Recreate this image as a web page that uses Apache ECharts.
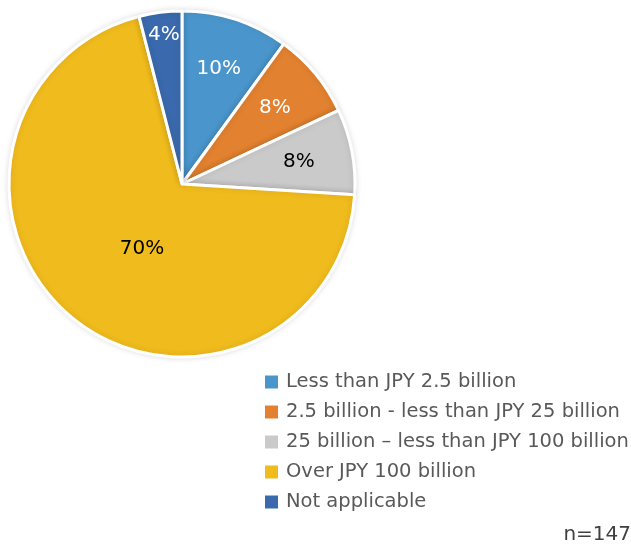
<!DOCTYPE html>
<html>
<head>
<meta charset="utf-8">
<script src="https://cdn.jsdelivr.net/npm/echarts@6/dist/echarts.min.js"></script>
<style>
  html, body { margin: 0; padding: 0; background: #fff; }
  #chart { width: 631px; height: 546px; }
</style>
</head>
<body>
<div id="chart"></div>
<script>
const categories = [
  'Less than JPY 2.5 billion',
  '2.5 billion - less than JPY 25 billion',
  '25 billion \u2013 less than JPY 100 billion',
  'Over JPY 100 billion',
  'Not applicable'
];
const values = [10, 8, 8, 70, 4];
const colors = ['#4a96cc', '#e2812f', '#c9cac9', '#f0bb1d', '#3a6aad'];
const labelColors = ['#fff', '#fff', '#000', '#000', '#fff'];
// small nudges so labels sit where the original placed them
const labelShift = [[9, -30], [24, -19], [29, -5], [17, -4], [-7, -60]];

const font = '"DejaVu Sans", "Noto Sans", sans-serif';

const chart = echarts.init(document.getElementById('chart'));
chart.setOption({
  animation: false,
  textStyle: { fontFamily: font },
  legend: {
    orient: 'vertical',
    left: 258,
    top: 367,
    itemWidth: 15,
    itemHeight: 15,
    itemGap: 10,
    icon: 'rect',
    selectedMode: false,
    textStyle: { fontSize: 19.5, color: '#595959', fontFamily: font, lineHeight: 20, padding: [0, 0, 0, 2] },
    data: categories
  },
  graphic: [{
    type: 'text',
    right: 0,
    bottom: 1,
    style: { text: 'n=147', fontSize: 20, fill: '#404040', fontFamily: font }
  }],
  series: [{
    type: 'pie',
    center: [182, 184],
    radius: [0, 173],
    startAngle: 90,
    clockwise: true,
    label: {
      position: 'inside',
      formatter: '{c}%',
      fontSize: 20,
      fontFamily: font
    },
    labelLine: { show: false },
    labelLayout: function (p) {
      const s = labelShift[p.dataIndex];
      return { dx: s[0], dy: s[1] };
    },
    itemStyle: {
      borderColor: '#fff',
      borderWidth: 3,
      shadowBlur: 6,
      shadowColor: 'rgba(0,0,0,0.12)'
    },
    emphasis: { disabled: true },
    data: categories.map((name, i) => ({
      name: name,
      value: values[i],
      itemStyle: { color: colors[i] },
      label: { color: labelColors[i], fontSize: 20, fontFamily: font }
    }))
  }]
});
</script>
</body>
</html>
